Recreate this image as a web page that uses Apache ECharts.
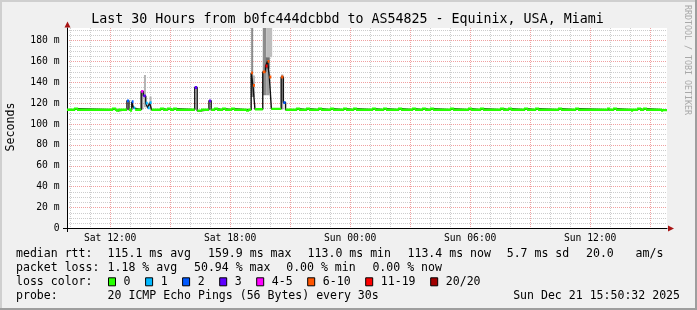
<!DOCTYPE html>
<html><head><meta charset="utf-8">
<script src="https://cdn.jsdelivr.net/npm/echarts@6/dist/echarts.min.js"></script>
<style>html,body{margin:0;padding:0;background:#f0f0f0}#c{width:697px;height:310px}</style>
</head><body><div id="c"></div><script>
// ---------------- data (hours since Sat 00:00) ----------------
const chartTitle = 'Last 30 Hours from b0fc444dcbbd to AS54825 - Equinix, USA, Miami';
const timeStart = 9.842;   // Sat 09:50:32
const timeEnd = 39.842;    // Sun 15:50:32
const yMax = 192;
const xMinorHours = [10,11,13,14,16,17,19,20,22,23,25,26,28,29,31,32,34,35,37,38];
const xMajorHours = [12,15,18,21,24,27,30,33,36,39];
const xLabelHours = [12,18,24,30,36];
const yMinorTicks = [5,10,15,25,30,35,45,50,55,65,70,75,85,90,95,105,110,115,125,130,135,145,150,155,165,170,175,185,190];
const yMajorTicks = [20,40,60,80,100,120,140,160,180];
const yLabelTicks = [0,20,40,60,80,100,120,140,160,180];

// median rtt steps: [start hour, ms, lost pings of 20]
const medianSteps = [
 [9.842,113.7,0],
 [10.19,114.7,0],[10.34,113.7,0],
 [12.09,114.7,0],[12.24,113.7,0],[12.29,112.8,0],[12.39,113.7,0],
 [12.84,122.3,2],[12.94,113.7,0],
 [12.99,112.8,0],[13.04,113.7,0],
 [13.08,121.4,2],[13.17,115.5,1],[13.25,113.7,0],
 [13.55,131.3,5],[13.66,127.0,3],[13.78,120.0,1],[13.88,115.5,1],[13.97,120.5,1],[14.07,113.7,0],
 [14.49,114.7,0],[14.64,113.7,0],
 [14.84,114.7,0],[14.99,113.7,0],
 [15.14,114.7,0],[15.29,113.7,0],
 [16.23,135.0,3],[16.35,112.8,0],[16.54,113.7,0],
 [16.94,122.3,3],[17.05,113.7,0],
 [17.19,114.7,0],[17.34,113.7,0],
 [17.59,114.7,0],[17.74,113.7,0],
 [18.04,114.7,0],[18.19,113.7,0],
 [18.79,112.8,0],[18.89,113.7,0],
 [19.05,149.0,8],[19.14,137.0,8],[19.24,114.2,0],
 [19.63,150.0,8],[19.77,155.6,14],[19.87,160.1,8],[19.96,145.1,8],[20.06,114.6,0],
 [20.55,145.1,8],[20.66,120.6,2],[20.77,113.7,0],
 [21.29,114.7,0],[21.44,113.7,0],
 [21.79,114.7,0],[21.94,113.7,0],
 [22.39,114.7,0],[22.54,113.7,0],
 [22.99,114.7,0],[23.14,113.7,0],
 [23.64,114.7,0],[23.79,113.7,0],
 [24.14,114.7,0],[24.29,113.7,0],
 [25.09,114.7,0],[25.24,113.7,0],
 [25.64,114.7,0],[25.79,113.7,0],
 [26.39,114.7,0],[26.54,113.7,0],
 [27.09,114.7,0],[27.24,113.7,0],
 [27.59,114.7,0],[27.74,113.7,0],
 [27.99,114.7,0],[28.14,113.7,0],
 [28.99,114.7,0],[29.14,113.7,0],
 [29.89,114.7,0],[30.04,113.7,0],
 [30.49,114.7,0],[30.64,113.7,0],
 [31.49,114.7,0],[31.64,113.7,0],
 [31.89,114.7,0],[32.04,113.7,0],
 [32.69,114.7,0],[32.84,113.7,0],
 [33.24,114.7,0],[33.39,113.7,0],
 [34.39,114.7,0],[34.54,113.7,0],
 [35.24,114.7,0],[35.39,113.7,0],
 [36.84,114.7,0],[36.94,113.7,0],
 [37.14,114.7,0],[37.29,113.7,0],
 [38.04,112.8,0],[38.09,113.7,0],
 [38.34,114.7,0],[38.49,113.7,0],
 [38.64,114.7,0],[38.79,113.7,0],
 [39.54,112.8,0],[39.59,113.4,0],
 [39.842,113.4,0]
];

// smoke bands: [start hour, end hour, low ms, high ms]
const smokeBands = [
 [13.56,13.66,114.0,131.0],
 [13.69,13.79,116.0,147.0],
 [13.97,14.07,114.0,126.5],
 [19.05,19.15,126.0,192.0],
 [19.14,19.24,126.0,146.6],
 [19.63,19.80,127.5,192.0],
 [19.80,20.10,164.0,192.0],
 [19.80,19.96,127.5,153.0],
 [19.78,19.98,153.0,164.0],
 [20.55,20.66,114.0,147.5]
];
const smokeShades = ['#9a9a9a','#b4b4b4','#b4b4b4','#8c8c8c','#b8b8b8','#8c8c8c','#bebebe','#a0a0a0','#707070','#a8a8a8'];

const lossLabels = ['0','1','2','3','4-5','6-10','11-19','20/20'];
const lossUpper  = [0,1,2,3,5,10,19,20];
const lossColors = ['#26ff00','#00b8ff','#0059ff','#5e00ff','#ff00ff','#ff5500','#ff0000','#a10000'];

const statsRttLabel = 'median rtt:';
const statsRtt = ['115.1 ms avg','159.9 ms max','113.0 ms min','113.4 ms now','5.7 ms sd','20.0','am/s'];
const statsLossLabel = 'packet loss:';
const statsLoss = ['1.18 % avg','50.94 % max','0.00 % min','0.00 % now'];
const lossColorLabel = 'loss color:';
const probeLabel = 'probe:';
const probeText = '20 ICMP Echo Pings (56 Bytes) every 30s';
const stampText = 'Sun Dec 21 15:50:32 2025';
const yAxisName = 'Seconds';
const watermark = 'RRDTOOL / TOBI OETIKER';

// ---------------- layout ----------------
const G = {left:67, top:28, width:600, height:200.5};
const MONO = '"DejaVu Sans Mono", monospace';
const rttX = [107.6,208,307.6,407.5,506.7,586,635.6];
const lossX = [107.6,194,286.2,372.4];
const boxX = [108,145.1,182.1,219.2,256.2,307.2,365.2,430.2];
const rowY = [254.3,268.3,282.3,296.2];

function lossClass(n){ for(let i=0;i<lossUpper.length;i++){ if(n<=lossUpper[i]) return i; } return lossUpper.length-1; }
function fmtHour(h){ const d = h<24?'Sat':'Sun'; const hh = Math.round(h)%24; return d+' '+(hh<10?'0':'')+hh+':00'; }

const segData = [];
for (let i=0;i<medianSteps.length-1;i++){
  segData.push([medianSteps[i][0], medianSteps[i+1][0], medianSteps[i][1], medianSteps[i+1][1], i]);
}

function txt(x,y,s,opt){
  opt = opt||{};
  return {type:'text', x:x, y:y, rotation:opt.rot||0, z:100, silent:true,
    style:{text:s, font:(opt.size||11.55)+'px '+MONO, fill:opt.color||'#000',
      align:opt.align||'left', textAlign:opt.align||'left',
      verticalAlign:'middle', textVerticalAlign:'middle'}};
}

const graphics = [];
graphics.push({type:'rect', shape:{x:0,y:0,width:697,height:2}, style:{fill:'#cfcfcf'}, z:90, silent:true});
graphics.push({type:'rect', shape:{x:0,y:0,width:2,height:310}, style:{fill:'#cfcfcf'}, z:90, silent:true});
graphics.push({type:'rect', shape:{x:695,y:0,width:2,height:310}, style:{fill:'#9e9e9e'}, z:90, silent:true});
graphics.push({type:'rect', shape:{x:0,y:308,width:697,height:2}, style:{fill:'#9e9e9e'}, z:90, silent:true});
// axis overshoot + arrows
graphics.push({type:'line', shape:{x1:67.5,y1:228,x2:67.5,y2:232}, style:{stroke:'#000',lineWidth:1}, z:95, silent:true});
graphics.push({type:'line', shape:{x1:63,y1:228.5,x2:67,y2:228.5}, style:{stroke:'#000',lineWidth:1}, z:95, silent:true});
graphics.push({type:'polygon', shape:{points:[[67.5,21.5],[64.5,27.5],[70.5,27.5]]}, style:{fill:'#a81515'}, z:95, silent:true});
graphics.push({type:'polygon', shape:{points:[[674,228.5],[668,225.5],[668,231.5]]}, style:{fill:'#a81515'}, z:95, silent:true});
graphics.push(txt(347.5,19.3,chartTitle,{size:13.3,align:'center'}));
graphics.push(txt(10.5,127,yAxisName,{size:11.6,align:'center',rot:Math.PI/2}));
graphics.push(txt(687,60,watermark,{size:8.3,align:'center',rot:-Math.PI/2,color:'#a8a8a8'}));
graphics.push(txt(16,rowY[0],statsRttLabel));
statsRtt.forEach((s,i)=>graphics.push(txt(rttX[i],rowY[0],s)));
graphics.push(txt(16,rowY[1],statsLossLabel));
statsLoss.forEach((s,i)=>graphics.push(txt(lossX[i],rowY[1],s)));
graphics.push(txt(16,rowY[2],lossColorLabel));
lossLabels.forEach((s,i)=>{
  graphics.push({type:'rect', shape:{x:boxX[i]+0.5,y:rowY[2]-4.5,width:7,height:8}, style:{fill:lossColors[i],stroke:'#000',lineWidth:1}, z:100, silent:true});
  graphics.push(txt(boxX[i]+15.6,rowY[2],s));
});
graphics.push(txt(16,rowY[3],probeLabel));
graphics.push(txt(107.6,rowY[3],probeText));
graphics.push(txt(680,rowY[3],stampText,{align:'right'}));

const minorLine = {show:true, lineStyle:{color:'#cdcdcd', width:1, type:[1,1]}};
const majorLine = {show:true, lineStyle:{color:'#f0a0a0', width:1, type:[1,1]}};
const axisFont = {color:'#000', fontFamily:MONO, fontSize:9.7};

const option = {
  animation:false,
  backgroundColor:'#f0f0f0',
  grid:{left:G.left, top:G.top, width:G.width, height:G.height, show:true, backgroundColor:'#ffffff', borderWidth:0, containLabel:false},
  xAxis:[
    {type:'value', min:timeStart, max:timeEnd, position:'bottom',
     axisLine:{show:true, onZero:false, lineStyle:{color:'#000', width:1}},
     axisTick:{show:false, customValues:xMinorHours},
     axisLabel:{show:false},
     splitLine:minorLine},
    {type:'value', min:timeStart, max:timeEnd, position:'bottom',
     axisLine:{show:false, onZero:false},
     axisTick:{show:false, customValues:xMajorHours},
     axisLabel:Object.assign({show:true, customValues:xLabelHours, margin:4.5, formatter:fmtHour}, axisFont),
     splitLine:majorLine}
  ],
  yAxis:[
    {type:'value', min:0, max:yMax, position:'left', offset:0,
     axisLine:{show:true, onZero:false, lineStyle:{color:'#000', width:1}},
     axisTick:{show:false, customValues:yMinorTicks},
     axisLabel:{show:false},
     splitLine:minorLine},
    {type:'value', min:0, max:yMax, position:'left', offset:0,
     axisLine:{show:false, onZero:false},
     axisTick:{show:false, customValues:yMajorTicks},
     axisLabel:Object.assign({show:true, customValues:yLabelTicks, margin:7.5, formatter:v=>v===0?'0':v+' m'}, axisFont),
     splitLine:majorLine}
  ],
  series:[
    {type:'custom', name:'smoke', xAxisIndex:0, yAxisIndex:0, clip:true, z:2, silent:true,
     data:smokeBands.map((b,i)=>[b[0],b[1],b[2],b[3],i]),
     encode:{x:[0,1], y:[2,3]},
     renderItem:function(params, api){
       const p1 = api.coord([api.value(0), api.value(3)]);
       const p2 = api.coord([api.value(1), api.value(2)]);
       return {type:'rect', shape:{x:p1[0], y:p1[1], width:p2[0]-p1[0], height:p2[1]-p1[1]},
               style:{fill:smokeShades[api.value(4)]}};
     }},
    {type:'line', name:'median', xAxisIndex:0, yAxisIndex:0, step:'end', symbol:'none', z:3, silent:true,
     data:medianSteps.map(d=>[d[0],d[1]]),
     lineStyle:{color:'#111', width:1.4}},
    {type:'custom', name:'loss', xAxisIndex:0, yAxisIndex:0, clip:true, z:4, silent:true,
     data:segData,
     encode:{x:[0,1], y:[2,3]},
     renderItem:function(params, api){
       const i = api.value(4);
       const c = lossClass(medianSteps[i][2]);
       const cNext = lossClass(medianSteps[i+1][2]);
       const a = api.coord([api.value(0), api.value(2)]);
       const b = api.coord([api.value(1), api.value(2)]);
       const pts = [a, b];
       if (c === 0 && cNext === 0 && i+1 < medianSteps.length-1) {
         pts.push(api.coord([api.value(1), api.value(3)]));
       }
       return {type:'polyline', shape:{points:pts}, style:{stroke:lossColors[c], lineWidth:c===0?2.3:2.8, fill:null}};
     }}
  ],
  graphic:graphics
};
const chart = echarts.init(document.getElementById('c'), null, {renderer:'canvas'});
chart.setOption(option);
</script></body></html>
